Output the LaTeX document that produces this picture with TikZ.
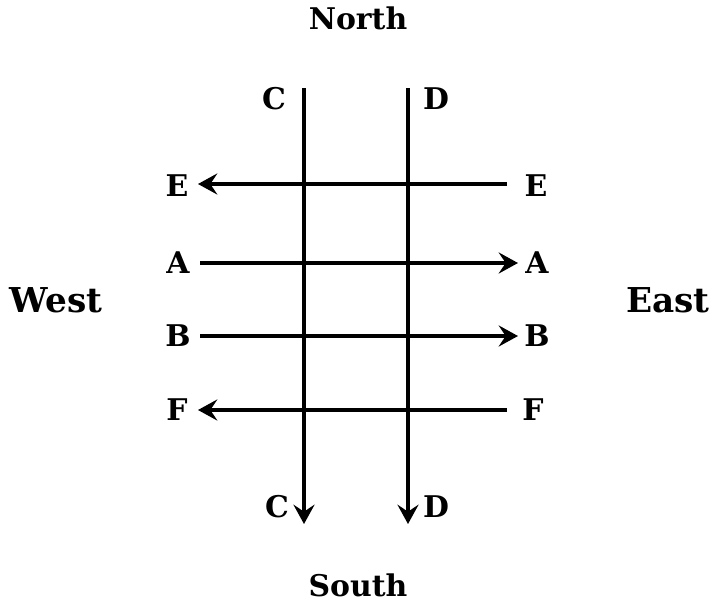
\documentclass[tikz,border=0pt]{standalone}
\usepackage{fontspec}
\setmainfont{DejaVu Serif}
\usepackage{tikz}
\usetikzlibrary{arrows.meta,positioning}
\tikzset{
  compasslabel/.style={font=\bfseries\fontsize{17}{19}\selectfont,inner sep=0pt},
  sidelabel/.style={font=\bfseries\fontsize{19.5}{22}\selectfont,inner sep=0pt},
  lanelabel/.style={font=\bfseries\fontsize{17}{19}\selectfont,inner sep=0pt},
  lanearrow/.style={-{Stealth[length=11pt,width=12pt,inset=4pt]},line width=2pt}
}
\begin{document}
\begin{tikzpicture}[x=0.02cm,y=-0.02cm]
  \useasboundingbox (0,0) rectangle (711,602);
  % compass points
  \node[compasslabel] (north) at (358,18) {North};
  \node[compasslabel] (south) at (358,585) {South};
  \node[sidelabel] (west) at (56,300) {West};
  \node[sidelabel] (east) at (668,300) {East};
  % north-south lanes
  \node[lanelabel] (cTop) at (274,99) {C};
  \node[lanelabel] (dTop) at (436,99) {D};
  \node[lanelabel] (cBot) at (277,507) {C};
  \node[lanelabel] (dBot) at (436,507) {D};
  \coordinate (cStart) at (304,88);
  \coordinate (cEnd) at (304,524);
  \coordinate (dStart) at (408,88);
  \coordinate (dEnd) at (408,524);
  \draw[lanearrow] (cStart) -- (cEnd);
  \draw[lanearrow] (dStart) -- (dEnd);
  % east-west lanes
  \foreach \n/\y/\xl/\xr in {E/186/177/536,A/263/178/537,B/336/178/537,F/410/177/533}{
    \node[lanelabel] (\n West) at (\xl,\y) {\n};
    \node[lanelabel] (\n East) at (\xr,\y) {\n};
  }
  \coordinate (eStart) at (507,184);
  \coordinate (eEnd) at (198,184);
  \coordinate (aStart) at (200,263);
  \coordinate (aEnd) at (518,263);
  \coordinate (bStart) at (200,336);
  \coordinate (bEnd) at (518,336);
  \coordinate (fStart) at (507,410);
  \coordinate (fEnd) at (198,410);
  \draw[lanearrow] (eStart) -- (eEnd);
  \draw[lanearrow] (aStart) -- (aEnd);
  \draw[lanearrow] (bStart) -- (bEnd);
  \draw[lanearrow] (fStart) -- (fEnd);
\end{tikzpicture}
\end{document}
